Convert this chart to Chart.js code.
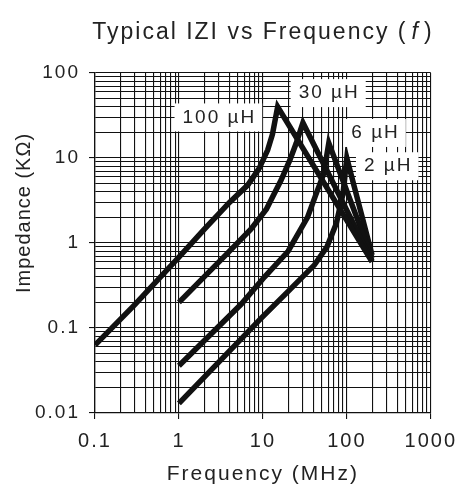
<!DOCTYPE html>
<html>
<head>
<meta charset="utf-8">
<script src="https://cdn.jsdelivr.net/npm/chart.js@4/dist/chart.umd.min.js"></script>
<style>
  html, body { margin: 0; padding: 0; background: #ffffff; }
  #wrap { width: 467px; height: 489px; position: relative; }
</style>
</head>
<body>
<div id="wrap"><canvas id="c" width="467" height="489"></canvas></div>
<script>
// ---- data ----
const freq100uH = [0.1, 0.3, 1, 2, 4, 6.6, 9, 11.4, 13, 15, 200];
const imp100uH  = [0.063, 0.19, 0.68, 1.45, 3.0, 4.8, 7.5, 12.4, 19, 40, 0.6];

const freq30uH = [1, 3.6, 7.2, 11, 16.5, 21, 25, 30, 200];
const imp30uH  = [0.2, 0.72, 1.45, 2.5, 5.5, 9.5, 15, 26, 0.62];

const freq6uH = [1, 5.5, 10.5, 20, 34, 44, 53, 61, 200];
const imp6uH  = [0.036, 0.19, 0.4, 0.8, 2.0, 4.0, 6.5, 15, 0.66];

const freq2uH = [1, 9.5, 20, 41, 58, 75, 90, 100, 200];
const imp2uH  = [0.013, 0.13, 0.27, 0.55, 0.9, 1.7, 3.8, 10, 0.72];

const seriesNames = ['100 µH', '30 µH', '6 µH', '2 µH'];
// label anchor points (frequency MHz, impedance kΩ)
const labelFreq = [2.95, 60, 214, 303];
const labelImp  = [30, 58, 19.7, 8.0];

const xTickValues = [0.1,0.2,0.3,0.4,0.5,0.6,0.7,0.8,0.9,1,2,3,4,5,6,7,8,9,10,20,30,40,50,60,70,80,90,100,200,300,400,500,600,700,800,900,1000];
const xMajorValues = [0.1, 1, 10, 100, 1000];
const xMajorLabels = ['0.1', '1', '10', '100', '1000'];

const yTickValues = [0.01,0.02,0.03,0.04,0.05,0.06,0.07,0.08,0.09,0.1,0.2,0.3,0.4,0.5,0.6,0.7,0.8,0.9,1,2,3,4,5,6,7,8,9,10,20,30,40,50,60,70,80,90,100];
const yMajorValues = [0.01, 0.1, 1, 10, 100];
const yMajorLabels = ['0.01', '0.1', '1', '10', '100'];

const titleParts = ['Typical IZI vs Frequency (', 'f', ')'];
const xTitle = 'Frequency (MHz)';
const yTitle = 'Impedance (KΩ)';

// ---- helpers ----
const FONT = '"Liberation Sans", Arial, Helvetica, sans-serif';
const INK = '#111111';
const SPACING = '2px';
function pts(fs, zs) { return fs.map((f, i) => ({ x: f, y: zs[i] })); }
function isMajorVal(v, list) { return list.some(m => Math.abs(m - v) / m < 1e-6); }
function labelFor(v, vals, labels) {
  for (let i = 0; i < vals.length; i++) if (Math.abs(vals[i] - v) / vals[i] < 1e-6) return labels[i];
  return '';
}

const decorPlugin = {
  id: 'decor',
  beforeLayout(chart) { chart.ctx.letterSpacing = SPACING; },
  beforeDraw(chart) { chart.ctx.letterSpacing = SPACING; },
  afterDatasetsDraw(chart) {
    const ctx = chart.ctx;
    const xs = chart.scales.x, ys = chart.scales.y;
    ctx.save();
    ctx.letterSpacing = SPACING;
    ctx.font = '19px ' + FONT;
    ctx.textAlign = 'center';
    ctx.textBaseline = 'middle';
    for (let i = 0; i < seriesNames.length; i++) {
      const px = xs.getPixelForValue(labelFreq[i]);
      const py = ys.getPixelForValue(labelImp[i]);
      const w = ctx.measureText(seriesNames[i]).width;
      ctx.fillStyle = '#ffffff';
      ctx.fillRect(px - w / 2 - 7, py - 14, w + 14, 28);
      ctx.fillStyle = '#222222';
      ctx.fillText(seriesNames[i], px + 1, py);
    }
    ctx.restore();
  },
  afterDraw(chart) {
    const ctx = chart.ctx;
    const ca = chart.chartArea;
    ctx.save();
    ctx.letterSpacing = SPACING;
    ctx.fillStyle = '#222222';
    ctx.textBaseline = 'alphabetic';
    // main title with italic f
    const fN = '23px ' + FONT, fI = 'italic 23px ' + FONT;
    ctx.font = fN; const w0 = ctx.measureText(titleParts[0]).width;
    ctx.font = fI; const w1 = ctx.measureText(titleParts[1]).width;
    ctx.font = fN; const w2 = ctx.measureText(titleParts[2]).width;
    const gap = 4;
    const total = w0 + w1 + w2 + 2 * gap;
    let x = (ca.left + ca.right) / 2 - total / 2;
    const yb = 39;
    ctx.textAlign = 'left';
    ctx.font = fN; ctx.fillText(titleParts[0], x, yb); x += w0 + gap;
    ctx.font = fI; ctx.fillText(titleParts[1], x, yb); x += w1 + gap;
    ctx.font = fN; ctx.fillText(titleParts[2], x, yb);
    // y axis title
    ctx.letterSpacing = '1px';
    ctx.translate(24, 213);
    ctx.rotate(-Math.PI / 2);
    ctx.textAlign = 'center';
    ctx.textBaseline = 'middle';
    ctx.font = '20px ' + FONT;
    ctx.fillText(yTitle, 0, 0);
    ctx.restore();
  }
};

const lineStyle = { borderColor: INK, backgroundColor: INK, borderWidth: 5.5, pointRadius: 0, showLine: true, tension: 0, fill: false, borderJoinStyle: 'miter', borderCapStyle: 'butt' };

new Chart(document.getElementById('c'), {
  type: 'scatter',
  data: {
    datasets: [
      Object.assign({ label: seriesNames[0], data: pts(freq100uH, imp100uH) }, lineStyle),
      Object.assign({ label: seriesNames[1], data: pts(freq30uH, imp30uH) }, lineStyle),
      Object.assign({ label: seriesNames[2], data: pts(freq6uH, imp6uH) }, lineStyle),
      Object.assign({ label: seriesNames[3], data: pts(freq2uH, imp2uH) }, lineStyle)
    ]
  },
  options: {
    responsive: false,
    animation: false,
    devicePixelRatio: 1,
    layout: { padding: { top: 73, right: 32, left: 0, bottom: 0 } },
    plugins: { legend: { display: false }, tooltip: { enabled: false }, title: { display: false } },
    scales: {
      x: {
        type: 'logarithmic',
        min: 0.1, max: 1000,
        afterBuildTicks(scale) { scale.ticks = xTickValues.map(v => ({ value: v })); },
        afterFit(scale) { scale.height = 76; },
        border: { color: INK, width: 1.3 },
        grid: {
          color: INK, lineWidth: 1.1, drawTicks: true, tickLength: 6,
          tickColor: (c) => (c.tick && isMajorVal(c.tick.value, xMajorValues)) ? INK : 'rgba(0,0,0,0)'
        },
        ticks: {
          autoSkip: false, maxRotation: 0, minRotation: 0, padding: 10,
          color: '#222222', font: { family: FONT, size: 20 },
          callback: (v) => labelFor(v, xMajorValues, xMajorLabels)
        },
        title: { display: true, text: xTitle, color: '#222222', font: { family: FONT, size: 21 }, padding: { top: 0, bottom: 2 } }
      },
      y: {
        type: 'logarithmic',
        min: 0.01, max: 100,
        afterBuildTicks(scale) { scale.ticks = yTickValues.map(v => ({ value: v })); },
        afterFit(scale) { scale.width = 95; },
        border: { color: INK, width: 1.3 },
        grid: {
          color: INK, lineWidth: 1.1, drawTicks: true, tickLength: 6,
          tickColor: (c) => (c.tick && isMajorVal(c.tick.value, yMajorValues)) ? INK : 'rgba(0,0,0,0)'
        },
        ticks: {
          autoSkip: false, padding: 9,
          color: '#222222', font: { family: FONT, size: 19 },
          callback: (v) => labelFor(v, yMajorValues, yMajorLabels)
        }
      }
    }
  },
  plugins: [decorPlugin]
});
</script>
</body>
</html>
